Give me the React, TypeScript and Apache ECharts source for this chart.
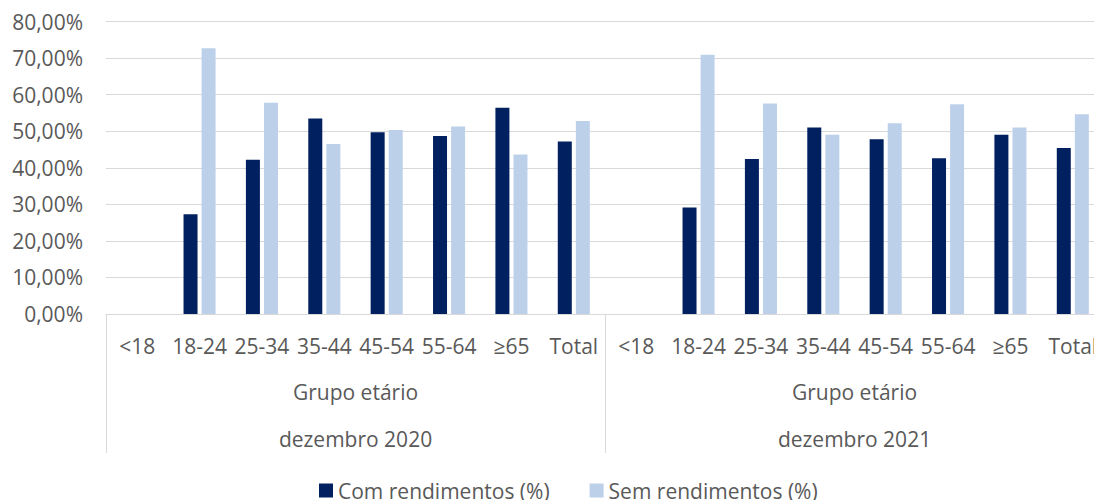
import React, { useEffect, useRef } from "react";
import * as echarts from "echarts";

const ageGroups = ["<18", "18-24", "25-34", "35-44", "45-54", "55-64", "≥65", "Total"];
const periods = ["dezembro 2020", "dezembro 2021"];
const groupLabel = "Grupo etário";
const seriesNames = ["Com rendimentos (%)", "Sem rendimentos (%)"];

const comRendimentos2020 = [null, 27.3, 42.2, 53.5, 49.7, 48.7, 56.4, 47.2];
const semRendimentos2020 = [null, 72.7, 57.8, 46.5, 50.3, 51.3, 43.6, 52.8];
const comRendimentos2021 = [null, 29.1, 42.4, 51.0, 47.8, 42.6, 49.0, 45.4];
const semRendimentos2021 = [null, 70.9, 57.6, 49.0, 52.2, 57.4, 51.0, 54.6];

const FONT = "'Open Sans', 'Noto Sans', sans-serif";
const TEXT = "#595959";
const GRID = "#d9d9d9";
const FS = 21;

export default function App() {
  const ref = useRef<HTMLDivElement>(null);
  useEffect(() => {
    document.body.style.margin = "0";
    if (!ref.current) return;
    const chart = echarts.init(ref.current, null, { renderer: "svg" });
    const cats = [...ageGroups, ...ageGroups];
    const com = [...comRendimentos2020, ...comRendimentos2021];
    const sem = [...semRendimentos2020, ...semRendimentos2021];
    chart.setOption({
      animation: false,
      textStyle: { fontFamily: FONT },
      grid: { left: 106, top: 21.5, width: 998, height: 292.5, outerBoundsMode: "none", containLabel: false },
      legend: {
        left: 319,
        top: 480,
        padding: 0,
        icon: "rect",
        itemWidth: 14,
        itemHeight: 14,
        itemGap: 40,
        textStyle: { color: TEXT, fontSize: FS, fontFamily: FONT, lineHeight: 20 },
        data: seriesNames,
      },
      xAxis: [
        {
          type: "category",
          data: cats,
          position: "bottom",
          axisLine: { show: true, lineStyle: { color: GRID, width: 1 } },
          axisTick: { show: false },
          axisLabel: {
            interval: 0,
            color: TEXT,
            fontSize: FS,
            fontFamily: FONT,
            margin: 20,
            lineHeight: 24,
          },
        },
        {
          type: "category",
          data: periods,
          position: "bottom",
          axisLine: { show: false },
          axisTick: { show: true, length: 139, lineStyle: { color: GRID, width: 1 } },
          axisLabel: {
            interval: 0,
            color: TEXT,
            fontSize: FS,
            fontFamily: FONT,
            margin: 54.5,
            lineHeight: 47,
            formatter: (v: string) => `${groupLabel}\n${v}`,
          },
          splitLine: { show: false },
        },
      ],
      yAxis: {
        type: "value",
        min: 0,
        max: 80,
        interval: 10,
        axisLine: { show: false },
        axisTick: { show: false },
        splitLine: { lineStyle: { color: GRID, width: 1 } },
        axisLabel: {
          color: TEXT,
          fontSize: FS,
          fontFamily: FONT,
          margin: 23,
          formatter: (v: number) => `${v.toFixed(2).replace(".", ",")}%`,
        },
      },
      series: [
        {
          name: seriesNames[0],
          type: "bar",
          xAxisIndex: 0,
          data: com,
          barWidth: 14,
          barGap: "29%",
          itemStyle: { color: "#002060" },
        },
        {
          name: seriesNames[1],
          type: "bar",
          xAxisIndex: 0,
          data: sem,
          barWidth: 14,
          barGap: "29%",
          itemStyle: { color: "#BDD0EA" },
        },
      ],
    });
    return () => chart.dispose();
  }, []);
  return <div ref={ref} style={{ width: 1094, height: 500 }} />;
}
